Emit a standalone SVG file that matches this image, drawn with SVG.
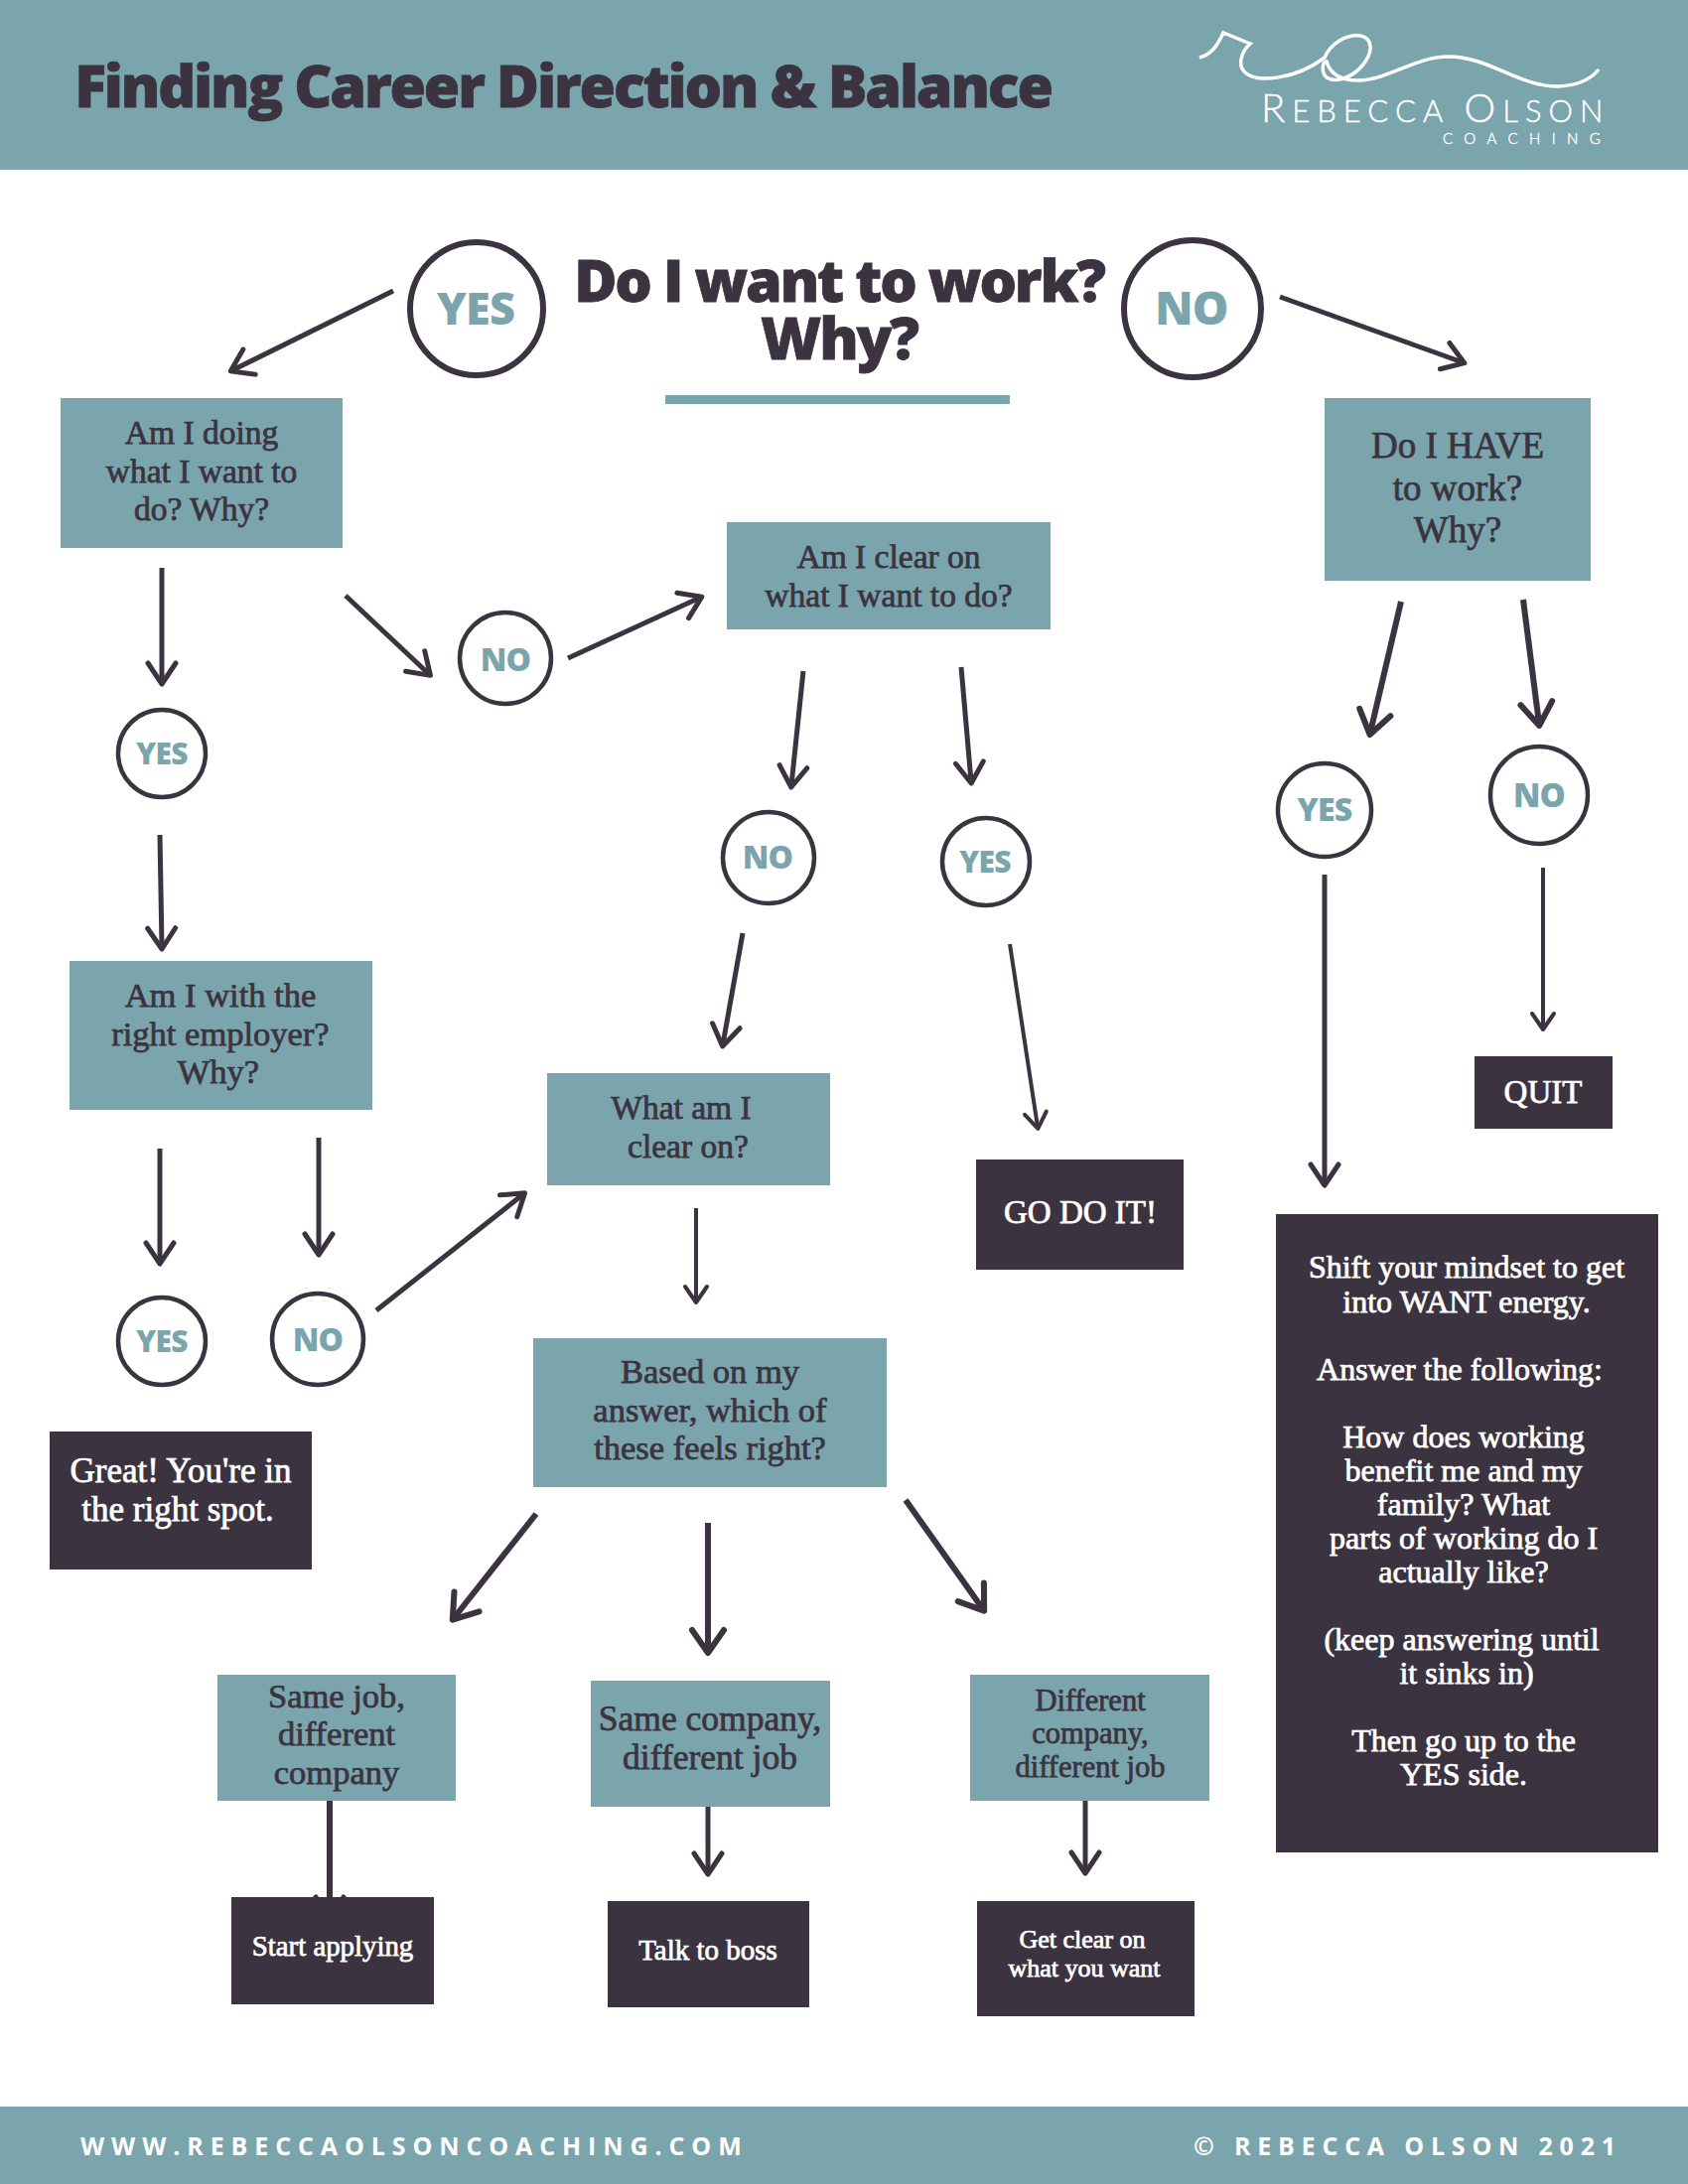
<svg xmlns="http://www.w3.org/2000/svg" width="1700" height="2200" viewBox="0 0 1700 2200">
<style>
.teal{fill:#7ba5ac}.dark{fill:#3b3440}
.c{fill:#fff;stroke:#3b3440;stroke-width:4.5}
.cb{fill:#fff;stroke:#3b3440;stroke-width:6}
.ct{font-family:"Open Sans",sans-serif;font-weight:800;fill:#7ba5ac;text-anchor:middle;letter-spacing:-.8px}
.h{font-family:"Open Sans",sans-serif;font-weight:800;fill:#3b3440;text-anchor:middle;letter-spacing:-2.15px;stroke:#3b3440;stroke-width:.8px}
.t{font-family:"Liberation Serif",serif;font-weight:400;text-anchor:middle;font-size:34.5px;fill:#3b3440;stroke:#3b3440;stroke-width:.75px}
.m{font-size:33.5px}
.i{fill:#fff;stroke:#fff}
.f{font-family:"Open Sans",sans-serif;font-weight:700;fill:#fff;font-size:25px}
.a{fill:none;stroke:#3b3440}
.s{stroke-width:4;marker-end:url(#hs)}
.n{stroke-width:5;marker-end:url(#hm)}
.b{stroke-width:6;marker-end:url(#hl)}
.l{font-family:Lato,sans-serif;font-weight:300;fill:#fff;stroke:#fff;stroke-width:.4px}
</style>
<defs>
<marker id="hs" markerUnits="userSpaceOnUse" markerWidth="60" markerHeight="60" refX="28" refY="30" orient="auto" overflow="visible"><path d="M14,19L30,30L14,41" fill="none" stroke="#3b3440" stroke-width="4" stroke-linecap="round" stroke-linejoin="round"/></marker>
<marker id="hm" markerUnits="userSpaceOnUse" markerWidth="60" markerHeight="60" refX="28" refY="30" orient="auto" overflow="visible"><path d="M9,16L30,30L9,44" fill="none" stroke="#3b3440" stroke-width="5" stroke-linecap="round" stroke-linejoin="round"/></marker>
<marker id="hl" markerUnits="userSpaceOnUse" markerWidth="60" markerHeight="60" refX="28" refY="30" orient="auto" overflow="visible"><path d="M7,14L30,30L7,46" fill="none" stroke="#3b3440" stroke-width="6" stroke-linecap="round" stroke-linejoin="round"/></marker>
</defs>
<rect width="1700" height="2200" fill="#fff"/>
<g id="header"><rect class="teal" width="1700" height="171"/>
<text class="h" x="567" y="108" font-size="59">Finding Career Direction &amp; Balance</text>
<path d="M1208,58C1220,55 1226,46 1232,33L1259,44C1250,52 1246,66 1254,73C1266,84 1305,80 1334,58C1340,44 1356,34 1370,36C1382,38 1384,52 1372,66C1362,78 1345,84 1336,78C1330,72 1332,62 1336,62C1340,76 1352,81 1368,81C1400,80 1425,57 1459,57C1500,57 1530,88 1570,87C1590,86 1602,80 1610,70" fill="none" stroke="#fff" stroke-width="3.5"/>
<text class="l" x="1270" y="123" font-size="40" letter-spacing="7">R<tspan font-size="31">EBECCA </tspan><tspan font-size="40">O</tspan><tspan font-size="31">LSON</tspan></text>
<text class="l" x="1453" y="145" font-size="15" letter-spacing="11.4">COACHING</text></g>
<g id="title"><text class="h" font-size="59"><tspan x="845" y="304">Do I want to work?</tspan><tspan x="845" y="362">Why?</tspan></text><rect class="teal" x="670" y="398" width="347" height="9"/></g>
<g id="connectors">
<path class="a n" d="M396,293L234,373"/><path class="a n" d="M1289,299L1473,365"/><path class="a n" d="M163,572V687"/><path class="a n" d="M348,600L432,679"/><path class="a n" d="M572,663L705,602"/><path class="a n" d="M809,676L797,791"/><path class="a n" d="M968,672L978,787"/><path class="a b" d="M1411,606L1380,738"/><path class="a b" d="M1534,604L1550,729"/><path class="a n" d="M161,841L163,954"/><path class="a n" d="M748,940L728,1052"/><path class="a s" d="M1017,951L1045,1135"/><path class="a n" d="M1334,881V1192"/><path class="a s" d="M1554,874V1035"/><path class="a n" d="M161,1157V1271"/><path class="a n" d="M321,1146V1262"/><path class="a n" d="M379,1320L527,1203"/><path class="a s" d="M701,1217V1310"/><path class="a b" d="M540,1525L457,1630"/><path class="a b" d="M713,1534V1663"/><path class="a b" d="M912,1511L990,1621"/><path class="a n" style="stroke-width:6" d="M332,1814V1930"/><path class="a n" d="M713,1820V1886"/><path class="a n" d="M1093,1814V1885"/>
</g>
<g id="c-yes0"><circle class="cb" cx="480" cy="311" r="67"/><text class="ct" x="479" y="327" font-size="45">YES</text></g>
<g id="c-no0"><circle class="cb" cx="1201" cy="311" r="69"/><text class="ct" x="1200" y="327" font-size="46">NO</text></g>
<g id="c-no1"><circle class="c" cx="509" cy="663" r="46"/><text class="ct" x="509" y="676" font-size="32">NO</text></g>
<g id="c-yes1"><circle class="c" cx="163" cy="759" r="44"/><text class="ct" x="163" y="770" font-size="30">YES</text></g>
<g id="c-no2"><circle class="c" cx="774" cy="864" r="46"/><text class="ct" x="773" y="875" font-size="32">NO</text></g>
<g id="c-yes2"><circle class="c" cx="993" cy="868" r="44"/><text class="ct" x="992" y="879" font-size="30">YES</text></g>
<g id="c-yes3"><circle class="c" cx="1334" cy="816" r="47"/><text class="ct" x="1334" y="827" font-size="32">YES</text></g>
<g id="c-no3"><circle class="c" cx="1550" cy="801" r="49"/><text class="ct" x="1550" y="813" font-size="33">NO</text></g>
<g id="c-yes4"><circle class="c" cx="163" cy="1351" r="44"/><text class="ct" x="163" y="1362" font-size="30">YES</text></g>
<g id="c-no4"><circle class="c" cx="320" cy="1349" r="46"/><text class="ct" x="320" y="1361" font-size="32">NO</text></g>
<g id="n1"><rect class="teal" x="61" y="401" width="284" height="151"/><text class="t m"><tspan x="203" y="447">Am I doing</tspan><tspan x="203" y="486">what I want to</tspan><tspan x="203" y="524">do? Why?</tspan></text></g>
<g id="n2"><rect class="teal" x="732" y="526" width="326" height="108"/><text class="t m"><tspan x="895" y="572">Am I clear on</tspan><tspan x="895" y="611">what I want to do?</tspan></text></g>
<g id="n3"><rect class="teal" x="1334" y="401" width="268" height="184"/><text class="t" style="font-size:37px"><tspan x="1468" y="461">Do I HAVE</tspan><tspan x="1468" y="504">to work?</tspan><tspan x="1468" y="546">Why?</tspan></text></g>
<g id="n4"><rect class="teal" x="70" y="968" width="305" height="150"/><text class="t"><tspan x="222" y="1014">Am I with the</tspan><tspan x="222" y="1053">right employer?</tspan><tspan x="220" y="1091">Why?</tspan></text></g>
<g id="n5"><rect class="teal" x="551" y="1081" width="285" height="113"/><text class="t m"><tspan x="686" y="1127">What am I</tspan><tspan x="693" y="1166">clear on?</tspan></text></g>
<g id="n6"><rect class="teal" x="537" y="1348" width="356" height="150"/><text class="t"><tspan x="715" y="1393">Based on my</tspan><tspan x="715" y="1432">answer, which of</tspan><tspan x="715" y="1470">these feels right?</tspan></text></g>
<g id="n7"><rect class="teal" x="219" y="1687" width="240" height="127"/><text class="t"><tspan x="339" y="1720">Same job,</tspan><tspan x="339" y="1758">different</tspan><tspan x="339" y="1797">company</tspan></text></g>
<g id="n8"><rect class="teal" x="595" y="1693" width="241" height="127"/><text class="t" style="font-size:35.5px"><tspan x="715" y="1743">Same company,</tspan><tspan x="715" y="1782">different job</tspan></text></g>
<g id="n9"><rect class="teal" x="977" y="1687" width="241" height="127"/><text class="t" style="font-size:30.5px"><tspan x="1098" y="1723">Different</tspan><tspan x="1098" y="1756">company,</tspan><tspan x="1098" y="1790">different job</tspan></text></g>
<g id="n10"><rect class="dark" x="233" y="1911" width="204" height="108"/><text class="t i" style="font-size:28.8px" x="335" y="1970">Start applying</text></g>
<g id="n11"><rect class="dark" x="612" y="1915" width="203" height="107"/><text class="t i" style="font-size:29px" x="713" y="1974">Talk to boss</text></g>
<g id="n12"><rect class="dark" x="984" y="1915" width="219" height="116"/><text class="t i" style="font-size:26px"><tspan x="1090" y="1962">Get clear on</tspan><tspan x="1092" y="1991">what you want</tspan></text></g>
<g id="n13"><rect class="dark" x="50" y="1442" width="264" height="139"/><text class="t i" style="font-size:35px"><tspan x="182" y="1493">Great! You're in</tspan><tspan x="179" y="1532">the right spot.</tspan></text></g>
<g id="n14"><rect class="dark" x="983" y="1168" width="209" height="111"/><text class="t i" style="font-size:33px" x="1088" y="1232">GO DO IT!</text></g>
<g id="n15"><rect class="dark" x="1485" y="1064" width="139" height="73"/><text class="t i" style="font-size:33px" x="1554" y="1111">QUIT</text></g>
<g id="n16"><rect class="dark" x="1285" y="1223" width="385" height="643"/><text class="t i" style="font-size:32px"><tspan x="1477" y="1287">Shift your mindset to get</tspan><tspan x="1477" y="1322">into WANT energy.</tspan><tspan x="1470" y="1390">Answer the following:</tspan><tspan x="1474" y="1458">How does working</tspan><tspan x="1474" y="1492">benefit me and my</tspan><tspan x="1474" y="1526">family? What</tspan><tspan x="1474" y="1560">parts of working do I</tspan><tspan x="1474" y="1594">actually like?</tspan><tspan x="1472" y="1662">(keep answering until</tspan><tspan x="1477" y="1696">it sinks in)</tspan><tspan x="1474" y="1764">Then go up to the</tspan><tspan x="1474" y="1798">YES side.</tspan></text></g>
<g id="footer"><rect class="teal" y="2122" width="1700" height="78"/><text class="f" x="81" y="2171" letter-spacing="6.9">WWW.REBECCAOLSONCOACHING.COM</text><text class="f" x="1202" y="2171" letter-spacing="6.8">© REBECCA OLSON 2021</text></g>
</svg>
